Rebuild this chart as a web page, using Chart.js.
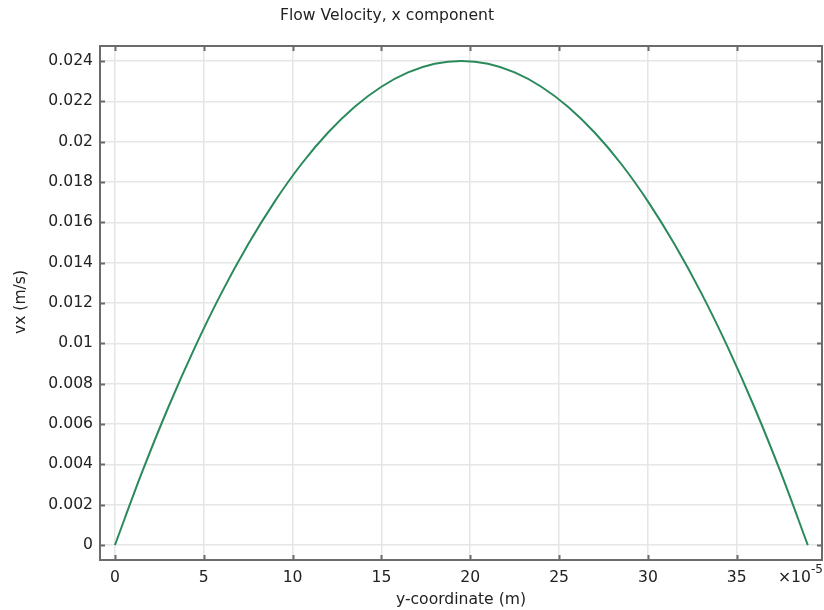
<!DOCTYPE html>
<html>
<head>
<meta charset="utf-8">
<script src="https://cdn.jsdelivr.net/npm/chart.js@4/dist/chart.umd.min.js"></script>
<style>
  html, body { margin: 0; padding: 0; background: #fff; }
  #wrap { width: 824px; height: 610px; }
</style>
</head>
<body>
<div id="wrap"><canvas id="flowChart" width="824" height="610"></canvas></div>
<script>
// Data (y-coordinate in units of 1e-5 m, vx in m/s)
const yCoord = [0, 1.5, 3, 4.5, 6, 7.5, 9, 10.5, 12, 13.5, 15, 16.5, 18, 19.5,
                21, 22.5, 24, 25.5, 27, 28.5, 30, 31.5, 33, 34.5, 36, 37.5, 39];
const vxValues = [0, 0.00355, 0.00682, 0.00980, 0.01250, 0.01491, 0.01704, 0.01889,
                  0.02045, 0.02173, 0.02272, 0.02343, 0.02386, 0.02400,
                  0.02386, 0.02343, 0.02272, 0.02173, 0.02045, 0.01889, 0.01704,
                  0.01491, 0.01250, 0.00980, 0.00682, 0.00355, 0];
const xTicks = [0, 5, 10, 15, 20, 25, 30, 35];
const yTicks = [0, 0.002, 0.004, 0.006, 0.008, 0.01, 0.012, 0.014, 0.016, 0.018, 0.02, 0.022, 0.024];

const FONT = 'DejaVu Sans';
const FS = 15.6;
const frameColor = '#6b6b6b';

// Rahmen, innere Tickstriche und Texte
const framePlugin = {
    id: 'frame',
    afterDraw(chart) {
        const ctx = chart.ctx;
        const a = chart.chartArea;
        const xs = chart.scales.x, ys = chart.scales.y;
        ctx.save();
        ctx.strokeStyle = frameColor;
        ctx.lineWidth = 2;
        ctx.strokeRect(a.left, a.top, a.right - a.left, a.bottom - a.top);

        const len = 5;
        ctx.beginPath();
        xTicks.forEach(t => {
            const px = Math.round(xs.getPixelForValue(t)) + 0.5;
            ctx.moveTo(px, a.bottom); ctx.lineTo(px, a.bottom - len);
            ctx.moveTo(px, a.top); ctx.lineTo(px, a.top + len);
        });
        yTicks.forEach(t => {
            const py = Math.round(ys.getPixelForValue(t)) + 0.5;
            ctx.moveTo(a.left, py); ctx.lineTo(a.left + len, py);
            ctx.moveTo(a.right, py); ctx.lineTo(a.right - len, py);
        });
        ctx.stroke();

        ctx.fillStyle = '#222';
        ctx.font = FS + 'px "' + FONT + '"';
        ctx.textAlign = 'center';
        ctx.textBaseline = 'middle';
        ctx.fillText('Flow Velocity, x component', 387, 16);
        ctx.fillText('y-coordinate (m)', 461, 600);

        ctx.save();
        ctx.translate(21, 302);
        ctx.rotate(-Math.PI / 2);
        ctx.fillText('vx (m/s)', 0, 0);
        ctx.restore();

        // Exponent
        ctx.textAlign = 'left';
        ctx.fillText('\u00d710', 778, 578);
        ctx.font = '12px "' + FONT + '"';
        ctx.fillText('-5', 811, 570);
        ctx.restore();
    }
};

new Chart(document.getElementById('flowChart'), {
    type: 'line',
    data: {
        datasets: [{
            data: yCoord.map((x, i) => ({ x: x, y: vxValues[i] })),
            borderColor: '#2a8a5c',
            borderWidth: 2,
            pointRadius: 0,
            fill: false,
            cubicInterpolationMode: 'monotone'
        }]
    },
    options: {
        responsive: false,
        animation: false,
        layout: { padding: { top: 46, right: 2, left: 0, bottom: 0 } },
        plugins: { legend: { display: false }, title: { display: false }, tooltip: { enabled: false } },
        scales: {
            x: {
                type: 'linear',
                min: -0.84,
                max: 39.8,
                afterFit(scale) { scale.height = 50; },
                afterBuildTicks(scale) { scale.ticks = xTicks.map(v => ({ value: v })); },
                grid: { color: '#e6e6e6', lineWidth: 1.5, drawTicks: false },
                border: { display: false },
                ticks: {
                    padding: 9,
                    color: '#222',
                    font: { family: FONT, size: FS },
                    maxRotation: 0,
                    callback: v => String(v)
                }
            },
            y: {
                type: 'linear',
                min: -0.00074,
                max: 0.02474,
                afterFit(scale) { scale.width = 100; },
                afterBuildTicks(scale) { scale.ticks = yTicks.map(v => ({ value: v })); },
                grid: { color: '#e6e6e6', lineWidth: 1.5, drawTicks: false },
                border: { display: false },
                ticks: {
                    padding: 7,
                    color: '#222',
                    font: { family: FONT, size: FS },
                    callback: v => String(parseFloat(v.toFixed(4)))
                }
            }
        }
    },
    plugins: [framePlugin]
});
</script>
</body>
</html>
